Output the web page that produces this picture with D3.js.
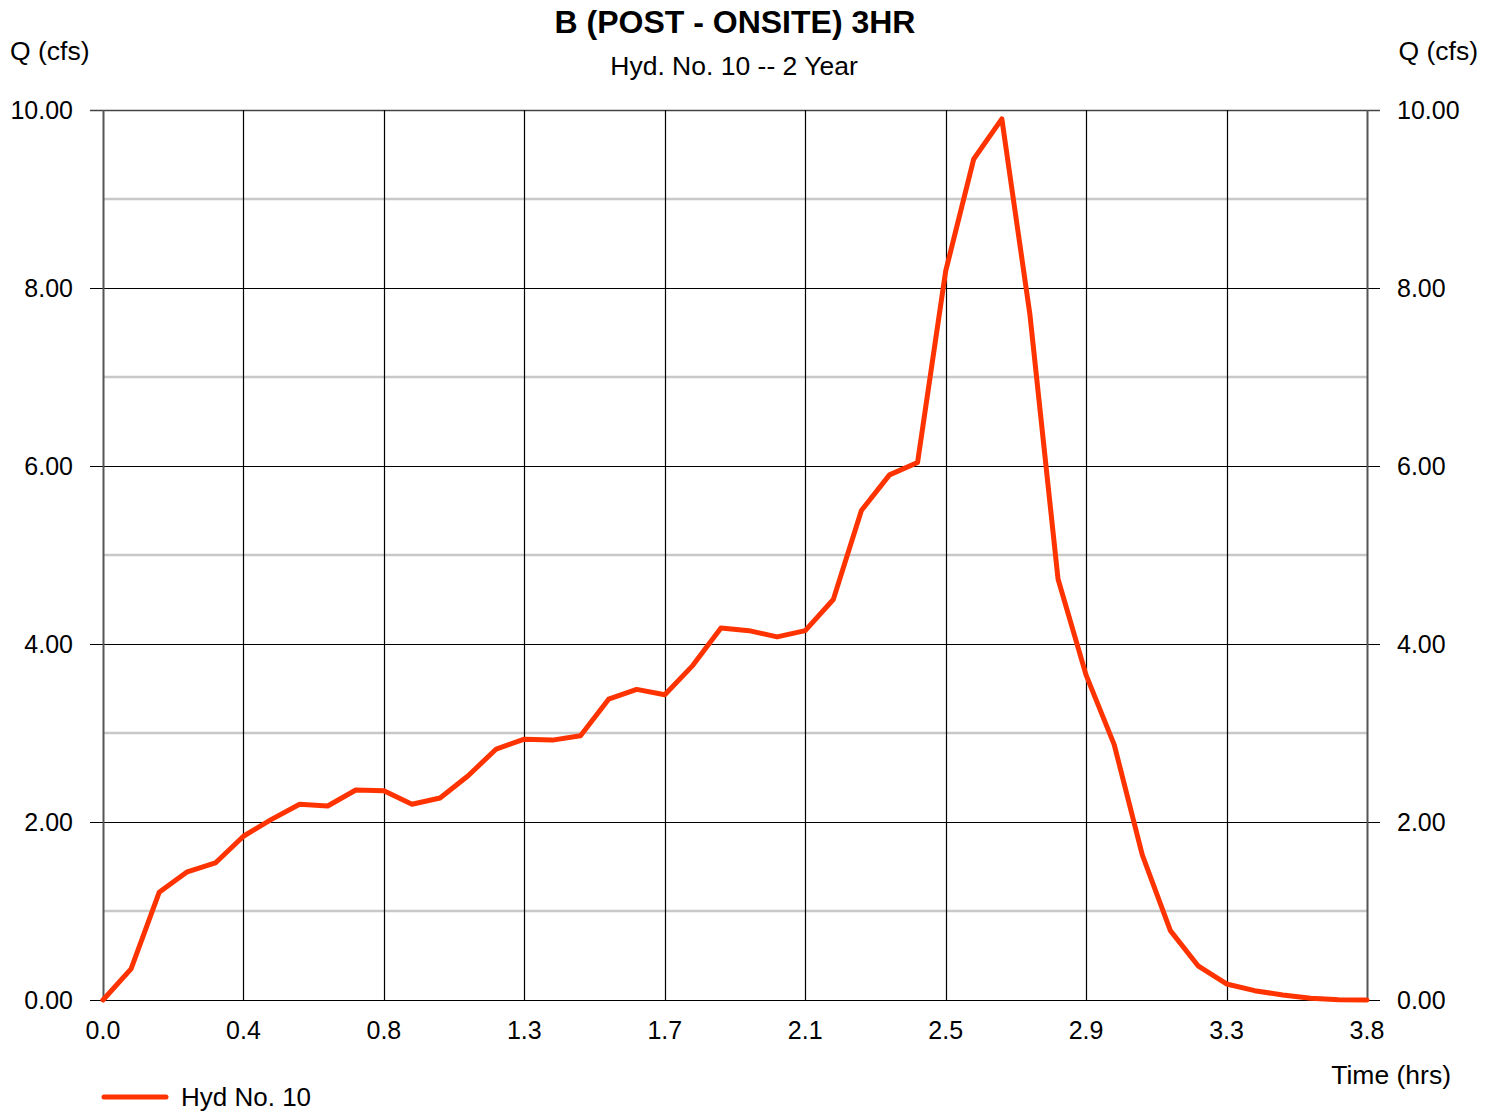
<!DOCTYPE html>
<html>
<head>
<meta charset="utf-8">
<script src="https://cdn.jsdelivr.net/npm/d3@7"></script>
<style>
  html, body { margin: 0; padding: 0; background: #fff; }
  svg { display: block; font-family: "Liberation Sans", Arial, sans-serif; }
</style>
</head>
<body>
<svg id="chart" width="1496" height="1112"></svg>
<script>
// Hydrograph ordinates, 5-minute time step (hours)
const timeStep = 1 / 12;
const flows = [
  0.00, 0.35, 1.21, 1.44, 1.54, 1.84, 2.03, 2.20, 2.18, 2.36,
  2.35, 2.20, 2.27, 2.52, 2.82, 2.93, 2.92, 2.97, 3.38, 3.49,
  3.43, 3.76, 4.18, 4.15, 4.08, 4.15, 4.50, 5.50, 5.90, 6.04,
  8.19, 9.45, 9.90, 7.70, 4.73, 3.65, 2.87, 1.63, 0.78, 0.38,
  0.18, 0.105, 0.056, 0.019, 0.004, 0.00
];

// Axis ticks
const xTickValues = [0, 5/12, 10/12, 15/12, 20/12, 25/12, 30/12, 35/12, 40/12, 45/12];
const xTickLabels = ["0.0", "0.4", "0.8", "1.3", "1.7", "2.1", "2.5", "2.9", "3.3", "3.8"];
const yMajorTicks = [0, 2, 4, 6, 8, 10];
const yMinorTicks = [1, 3, 5, 7, 9];

const titleText = "B (POST - ONSITE) 3HR";
const subtitleText = "Hyd. No. 10 -- 2 Year";
const seriesName = "Hyd No. 10";

const points = flows.map((q, i) => ({ t: i * timeStep, q }));

const svg = d3.select("#chart");
const plotLeft = 103, plotRight = 1367, plotTop = 110, plotBottom = 1000;

const x = d3.scaleLinear().domain([0, 45 / 12]).range([plotLeft, plotRight]);
const y = d3.scaleLinear().domain([0, 10]).range([plotBottom, plotTop]);

// Minor horizontal gridlines
svg.append("g")
  .selectAll("line")
  .data(yMinorTicks)
  .join("line")
  .attr("x1", plotLeft).attr("x2", plotRight)
  .attr("y1", d => y(d)).attr("y2", d => y(d))
  .attr("stroke", "#c8c8c8")
  .attr("stroke-width", 2.5);

// Major horizontal gridlines with outside tick stubs
svg.append("g")
  .selectAll("line")
  .data(yMajorTicks)
  .join("line")
  .attr("x1", plotLeft - 13).attr("x2", plotRight + 13)
  .attr("y1", d => Math.round(y(d)) + 0.5).attr("y2", d => Math.round(y(d)) + 0.5)
  .attr("stroke", d => d === 10 ? "#444" : "#000")
  .attr("stroke-width", d => d === 10 ? 1.5 : 1.2);

// Vertical gridlines
svg.append("g")
  .selectAll("line")
  .data(xTickValues)
  .join("line")
  .attr("x1", d => Math.round(x(d)) + 0.5).attr("x2", d => Math.round(x(d)) + 0.5)
  .attr("y1", plotTop).attr("y2", plotBottom)
  .attr("stroke", (d, i) => (i === 0 || i === xTickValues.length - 1) ? "#555" : "#000")
  .attr("stroke-width", (d, i) => (i === 0 || i === xTickValues.length - 1) ? 2 : 1.2);

// Y tick labels (left and right)
const labelStyle = sel => sel.attr("font-size", 25).attr("fill", "#000");
svg.append("g")
  .selectAll("text")
  .data(yMajorTicks)
  .join("text")
  .attr("x", 73).attr("y", d => y(d) + 9)
  .attr("text-anchor", "end")
  .text(d => d.toFixed(2))
  .call(labelStyle);
svg.append("g")
  .selectAll("text")
  .data(yMajorTicks)
  .join("text")
  .attr("x", 1397).attr("y", d => y(d) + 9)
  .attr("text-anchor", "start")
  .text(d => d.toFixed(2))
  .call(labelStyle);

// X tick labels
svg.append("g")
  .selectAll("text")
  .data(xTickValues)
  .join("text")
  .attr("x", d => x(d)).attr("y", 1039)
  .attr("text-anchor", "middle")
  .text((d, i) => xTickLabels[i])
  .call(labelStyle);

// Axis titles
svg.append("text").attr("x", 10).attr("y", 60).text("Q (cfs)").attr("font-size", 26.5);
svg.append("text").attr("x", 1478).attr("y", 60).attr("text-anchor", "end").text("Q (cfs)").attr("font-size", 26.5);
svg.append("text").attr("x", 1451).attr("y", 1084).attr("text-anchor", "end").text("Time (hrs)").attr("font-size", 26.5);

// Titles
svg.append("text").attr("x", 735).attr("y", 33).attr("text-anchor", "middle")
  .attr("font-weight", "bold").attr("font-size", 32).text(titleText);
svg.append("text").attr("x", 734).attr("y", 75).attr("text-anchor", "middle")
  .attr("font-size", 26.5).text(subtitleText);

// Hydrograph line
const line = d3.line().x(d => x(d.t)).y(d => y(d.q));
svg.append("path")
  .datum(points)
  .attr("d", line)
  .attr("fill", "none")
  .attr("stroke", "#ff3300")
  .attr("stroke-width", 5)
  .attr("stroke-linejoin", "round")
  .attr("stroke-linecap", "round");

// Legend
svg.append("line")
  .attr("x1", 104).attr("x2", 166).attr("y1", 1097).attr("y2", 1097)
  .attr("stroke", "#ff3300").attr("stroke-width", 5).attr("stroke-linecap", "round");
svg.append("text").attr("x", 181).attr("y", 1106).attr("font-size", 26).text(seriesName);
</script>
</body>
</html>
